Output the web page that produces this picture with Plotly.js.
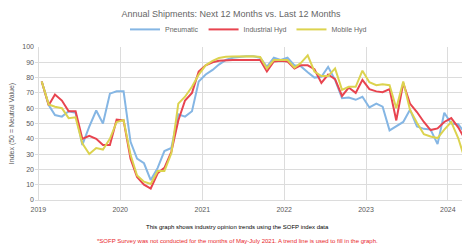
<!DOCTYPE html>
<html>
<head>
<meta charset="utf-8">
<script src="https://cdn.plot.ly/plotly-3.0.1.min.js"></script>
<style>
html,body{margin:0;padding:0;background:#fff;}
#chart{width:462px;height:248px;}
</style>
</head>
<body>
<div id="chart"></div>
<script>
// Monthly survey points, Jan 2019 .. Mar 2024
var startYear = 2019;
var seriesNames = ["Pneumatic", "Industrial Hyd", "Mobile Hyd"];
var pneumatic = [77.5,62,55.5,54.5,58,57,36,48,58.5,50,69.5,71,
  71,38,27,24,13,21,32,34,56,54.5,58,77.5,
  82,85,88.5,91.5,93,93.5,94,94,93,87,93,91.5,
  93,88,87.5,83.5,80,80.5,87,78.5,66.5,67,65.5,67.5,
  60.5,63,61,45.5,48,51,59,48,46.5,46,36.5,57,
  50,49.5,44];
var industrialHyd = [77.5,62,69,65,58,58,40,42,40,36,36,52.5,
  52,27,15,10,7.5,17.5,21,31.5,52,65,70,84,
  88,90,91,91.5,91.5,91.5,91.5,91.5,91.5,84,90.5,91,
  90.5,86,88,88,85.5,76.5,82,79,68,73.5,70,78.5,
  72.5,71,70.5,72.5,52,76.5,63,57.5,51,45.7,46.8,51,
  53.5,47.5,40];
var mobileHyd = [77.5,62.5,61,60,53.5,54,37,30,34,33,40,51,
  52.3,29.5,16,12,10.5,19,19,30.5,63,67.5,74,82,
  88,91,92.8,93.6,93.8,94,94,94,93.5,86,91.5,91.5,
  91.5,86.5,89.5,94.5,84,81,81,86,72,74,74,84.5,
  77,75,75.7,75,60,77.5,59,50.5,43,41.5,40.5,46,
  51,40.5,27];
var yTicks = [0,10,20,30,40,50,60,70,80,90,100];
var titleText = "Annual Shipments: Next 12 Months vs. Last 12 Months";
var yTitleText = "Index (50 = Neutral Value)";
var note1 = "This graph shows industry opinion trends using the SOFP index data";
var note2 = "*SOFP Survey was not conducted for the months of May-July 2021. A trend line is used to fill in the graph.";

function monthDates(n){
  var out = [];
  for (var i = 0; i < n; i++){
    var y = startYear + Math.floor(i/12);
    var m = (i % 12) + 1;
    out.push(y + "-" + (m < 10 ? "0" + m : m) + "-16");
  }
  return out;
}
var dates = monthDates(pneumatic.length);
var colors = ["#85b6e4", "#e8444f", "#dcd34f"];
var values = [pneumatic, industrialHyd, mobileHyd];

var traces = values.map(function(v, k){
  return {
    x: dates, y: v, type: "scatter", mode: "lines", name: seriesNames[k],
    line: {color: colors[k], width: 2}, hoverinfo: "skip"
  };
});

var layout = {
  width: 462, height: 248,
  margin: {l: 35, r: 0, t: 47, b: 48},
  paper_bgcolor: "#ffffff", plot_bgcolor: "#ffffff",
  font: {family: "Liberation Sans, Arial, sans-serif", color: "#595959", size: 7},
  title: {text: titleText, x: 0.5, xanchor: "center", y: 0.945, yanchor: "middle",
          font: {size: 9, color: "#666666"}},
  showlegend: true,
  legend: {orientation: "h", x: 0.5, xanchor: "center", y: 1.115, yanchor: "middle",
           font: {size: 7, color: "#666666"}, itemwidth: 30, tracegroupgap: 0},
  xaxis: {type: "date", range: ["2018-12-17", "2024-03-04"],
          tick0: "2019-01-01", dtick: "M12", tickformat: "%Y",
          showgrid: true, gridcolor: "#dcdcdc", gridwidth: 1,
          zeroline: false, showline: false, ticks: "", ticklabelstandoff: 4,
          tickfont: {size: 7, color: "#595959"}, fixedrange: true},
  yaxis: {range: [0, 100], tickvals: yTicks, ticktext: yTicks.map(String),
          showgrid: true, gridcolor: "#dcdcdc", gridwidth: 1,
          zeroline: true, zerolinecolor: "#dcdcdc", zerolinewidth: 1, showline: false, ticks: "",
          tickfont: {size: 7, color: "#595959"},
          title: {text: yTitleText, font: {size: 7, color: "#595959"}, standoff: 6},
          fixedrange: true},
  annotations: [
    {text: note1, xref: "paper", yref: "paper", x: 0.475, y: -0.175, xanchor: "center", yanchor: "middle",
     showarrow: false, font: {size: 6, color: "#000000"}},
    {text: note2, xref: "paper", yref: "paper", x: 0.475, y: -0.265, xanchor: "center", yanchor: "middle",
     showarrow: false, font: {size: 6, color: "#e8262b"}}
  ]
};

Plotly.newPlot("chart", traces, layout, {staticPlot: true, displayModeBar: false});
</script>
</body>
</html>
